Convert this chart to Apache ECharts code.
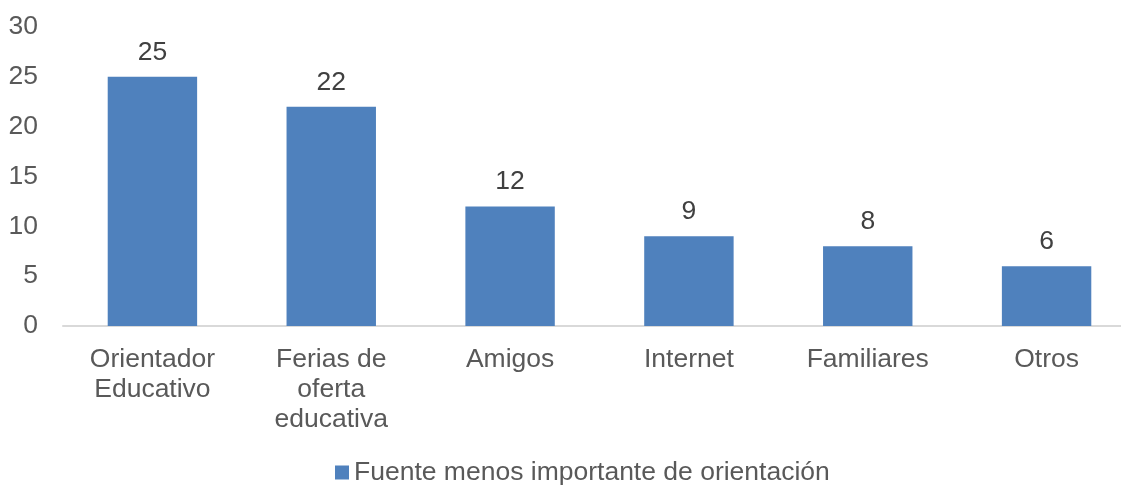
<!DOCTYPE html>
<html>
<head>
<meta charset="utf-8">
<script src="https://cdn.jsdelivr.net/npm/echarts@6/dist/echarts.min.js"></script>
<style>
  html, body { margin: 0; padding: 0; background: #ffffff; }
  #chart { width: 1121px; height: 485px; }
</style>
</head>
<body>
<div id="chart"></div>
<script>
// Categories and counts for the bar chart
const categories = ['Orientador\nEducativo', 'Ferias de\noferta\neducativa', 'Amigos', 'Internet', 'Familiares', 'Otros'];
const values = [25, 22, 12, 9, 8, 6];
const seriesName = 'Fuente menos importante de orientación';

const textColor = '#595959';
const fontFamily = 'Liberation Sans, Arial, sans-serif';

const chart = echarts.init(document.getElementById('chart'), null, { renderer: 'canvas' });
chart.setOption({
  animation: false,
  backgroundColor: '#ffffff',
  textStyle: { fontFamily: fontFamily },
  // the plot runs slightly past the right edge of the canvas
  grid: { left: 63, width: 1073, top: 27, bottom: 159, containLabel: false, outerBoundsMode: 'none' },
  legend: {
    top: 459,
    left: 335,
    padding: 0,
    itemWidth: 14,
    itemHeight: 14,
    itemGap: 6,
    icon: 'rect',
    textStyle: { color: textColor, fontSize: 26.5, fontFamily: fontFamily },
    data: [seriesName]
  },
  xAxis: {
    type: 'category',
    data: categories,
    axisLine: { lineStyle: { color: '#d9d9d9', width: 2 } },
    axisTick: { show: false },
    axisLabel: {
      color: textColor,
      fontSize: 26.5,
      lineHeight: 30,
      margin: 19,
      interval: 0
    }
  },
  yAxis: {
    type: 'value',
    min: 0,
    max: 30,
    interval: 5,
    splitLine: { show: false },
    axisLine: { show: false },
    axisTick: { show: false },
    axisLabel: { color: textColor, fontSize: 26.5, margin: 25 }
  },
  series: [{
    name: seriesName,
    type: 'bar',
    data: values,
    barWidth: '50%',
    itemStyle: { color: '#4f81bd' },
    label: {
      show: true,
      position: 'top',
      distance: 11,
      color: '#404040',
      fontSize: 26.5
    }
  }]
});
</script>
</body>
</html>
